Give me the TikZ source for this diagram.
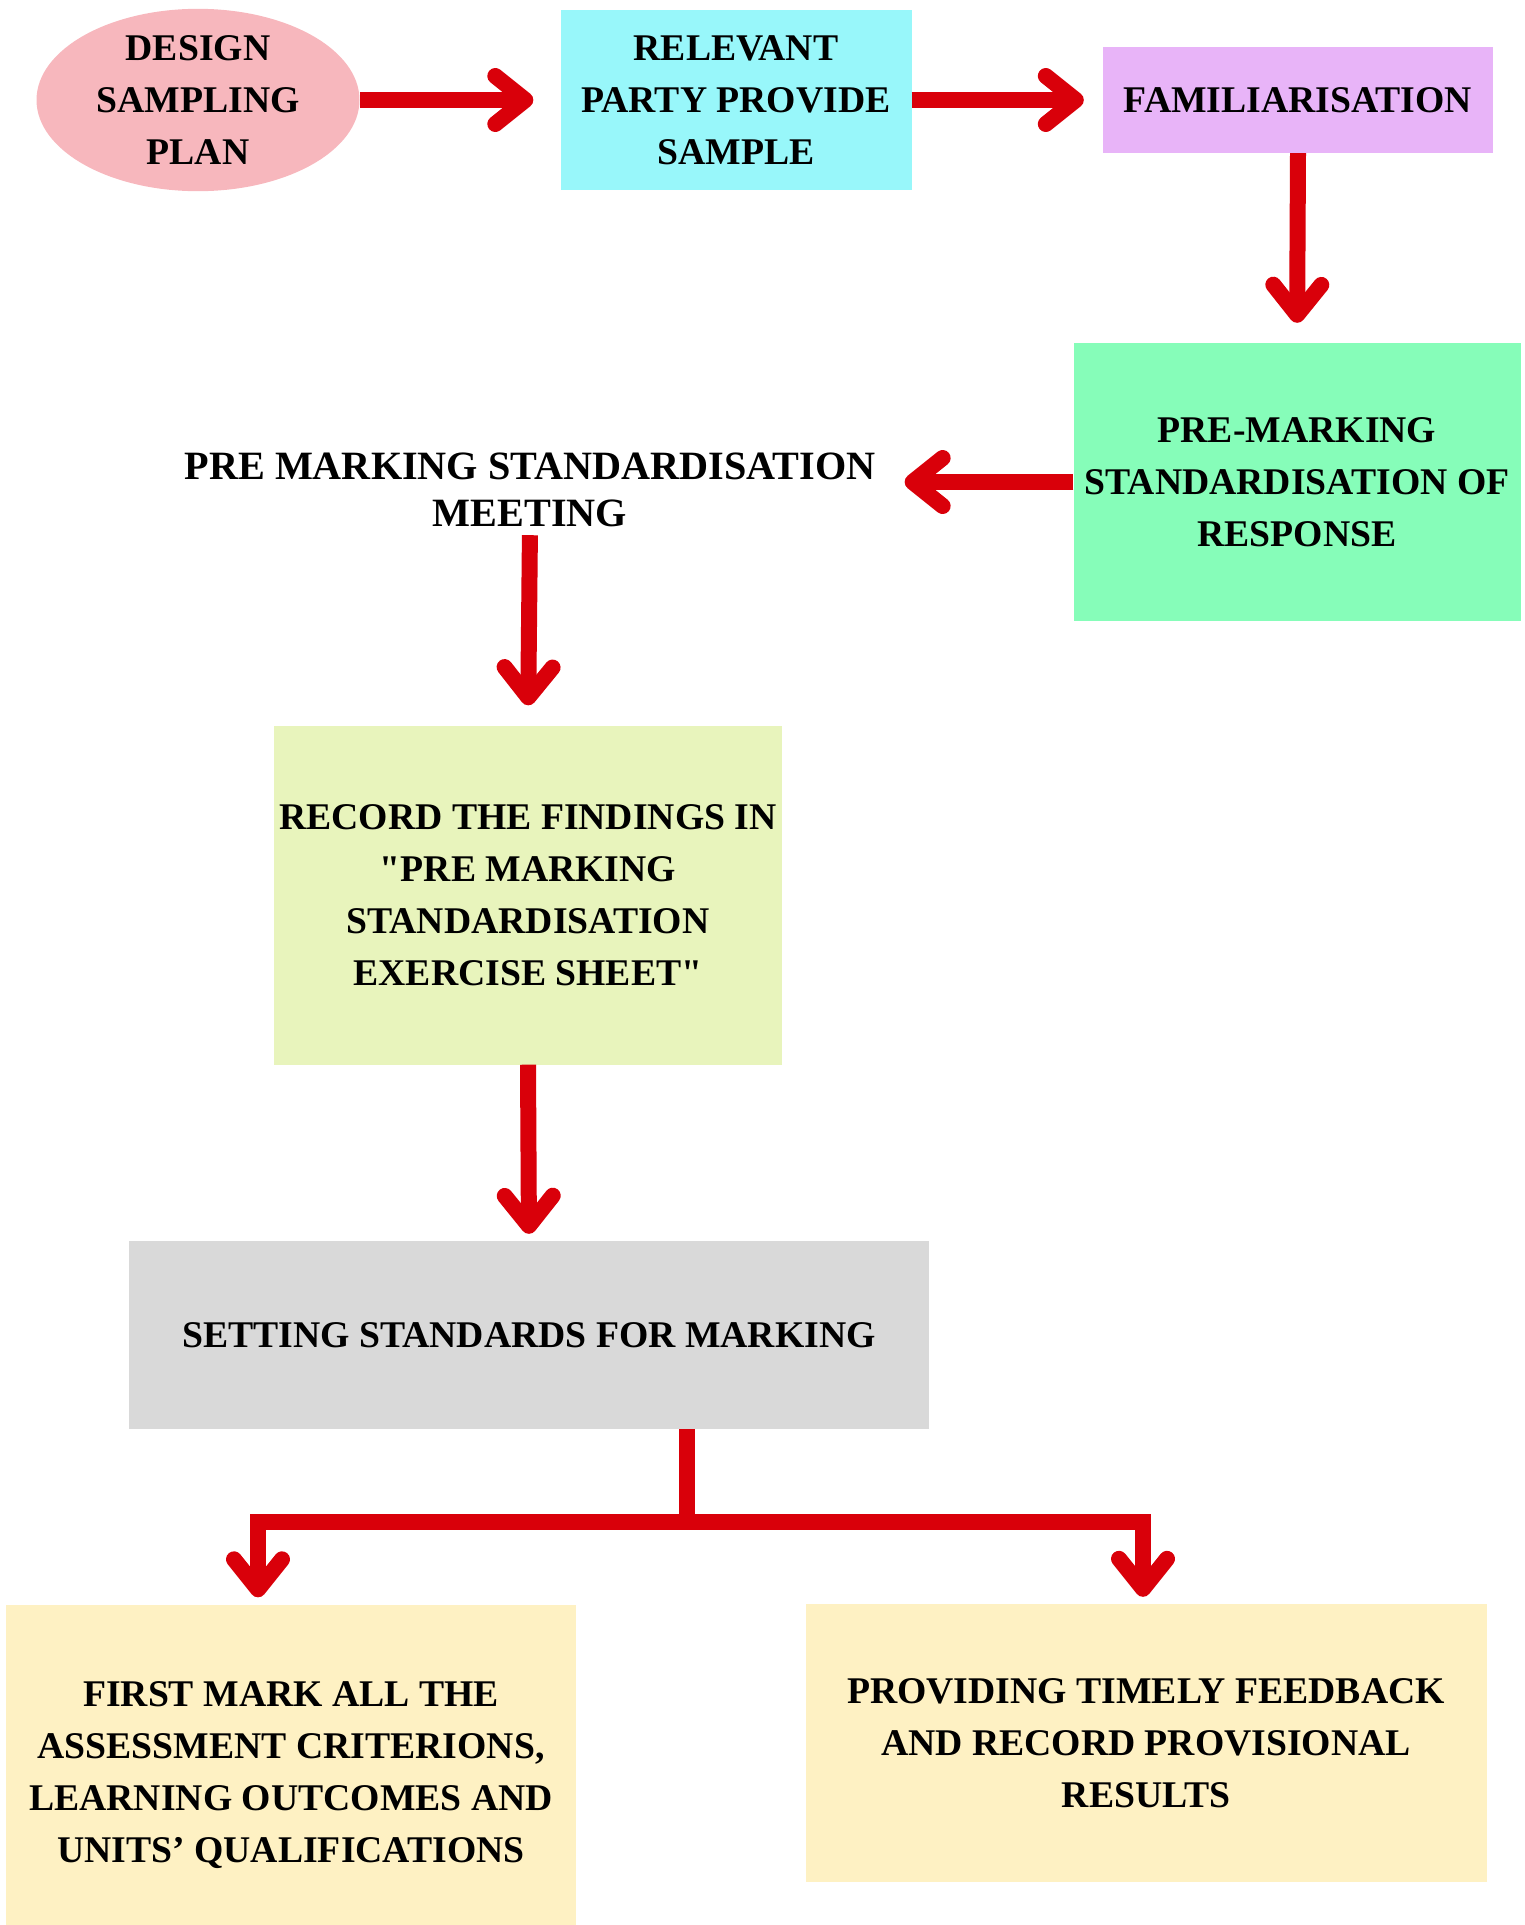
\documentclass[tikz,border=0pt]{standalone}
\usepackage{fontspec}
\setmainfont{Liberation Serif}[Ligatures=TeXOff]
\usetikzlibrary{shapes.geometric,arrows.meta}
\definecolor{Pink}{HTML}{F7B7BD}
\definecolor{Cyan}{HTML}{98F7FA}
\definecolor{Lilac}{HTML}{E8B4F8}
\definecolor{Mint}{HTML}{86FDB9}
\definecolor{Lime}{HTML}{E8F4BC}
\definecolor{Grey}{HTML}{D9D9D9}
\definecolor{Cream}{HTML}{FEF1C3}
\definecolor{Flow}{HTML}{D9000A}

\tikzset{
  box/.style={inner sep=0pt, align=center, font=\bfseries\fontsize{37.7}{52}\selectfont},
  flow/.style={draw=Flow, line width=16pt, -{Straight Barb[length=30pt, width=48pt, line cap=round, line join=round]}},
  link/.style={draw=Flow, line width=16pt}
}

\begin{document}
\begin{tikzpicture}[x=1pt, y=-1pt]
\useasboundingbox (0,0) rectangle (1525,1925);
% first row
\node[box, ellipse, fill=Pink, minimum width=323pt, minimum height=180pt] (design) at (198,100) {DESIGN\\SAMPLING\\PLAN};
\node[box, fill=Cyan, minimum width=351pt, minimum height=180pt] (party) at (736,100) {RELEVANT\\PARTY PROVIDE\\SAMPLE};
\node[box, fill=Lilac, minimum width=390pt, minimum height=106pt] (famil) at (1298,100) {FAMILIARISATION};
% right column
\node[box, fill=Mint, minimum width=447pt, minimum height=278pt] (response) at (1297,482) {PRE-MARKING\\STANDARDISATION OF\\RESPONSE};
\node[box, font=\bfseries\fontsize{40.2}{47}\selectfont] (meeting) at (530,490) {PRE MARKING STANDARDISATION\\MEETING};
% middle column
\node[box, fill=Lime, minimum width=508pt, minimum height=339pt] (record) at (528,895) {RECORD THE FINDINGS IN\\"PRE MARKING\\STANDARDISATION\\EXERCISE SHEET"};
\node[box, fill=Grey, minimum width=800pt, minimum height=188pt] (setting) at (529,1335) {SETTING STANDARDS FOR MARKING};
% last row
\node[box, fill=Cream, minimum width=570pt, minimum height=321pt] (first) at (291,1765) {};
\node[box] at (291,1775) {FIRST MARK ALL THE\\ASSESSMENT CRITERIONS,\\LEARNING OUTCOMES AND\\UNITS’ QUALIFICATIONS};
\node[box, fill=Cream, minimum width=681pt, minimum height=278pt] (feedback) at (1146,1743) {PROVIDING TIMELY FEEDBACK\\AND RECORD PROVISIONAL\\RESULTS};
% arrows
\draw[flow, shorten >=27pt] (design.east) -- (party.west);
\draw[flow, shorten >=19pt] (party.east) -- (famil.west);
\draw[flow, shorten >=20pt] (famil.south) -- (response.north);
\draw[flow, shorten >=29pt] (response.west) -- (meeting.east |- response.west);
\draw[flow, shorten >=20pt, shorten <=8pt] (meeting.south) -- (record.north);
\draw[flow, shorten >=7pt] (record.south) -- (setting.north);
\coordinate (fork) at (687,1522);
\coordinate (forkL) at (258,1522);
\coordinate (forkR) at (1143,1522);
\draw[link] (setting.south -| fork) -- (fork);
\draw[link, line cap=rect] (forkL) -- (forkR);
\draw[flow, shorten >=7pt] (forkL) -- (forkL |- first.north);
\draw[flow, shorten >=7pt] (forkR) -- (forkR |- feedback.north);
\end{tikzpicture}
\end{document}
